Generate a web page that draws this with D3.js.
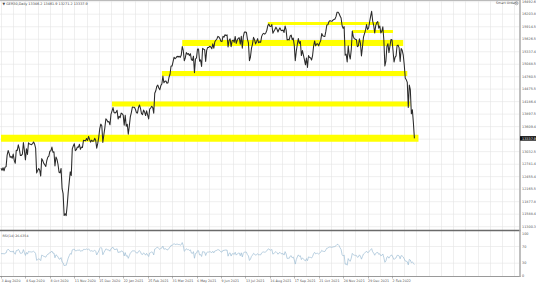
<!DOCTYPE html>
<html>
<head>
<meta charset="utf-8">
<script src="https://cdn.jsdelivr.net/npm/d3@7"></script>
<style>
  body { margin: 0; background: #fff; }
  svg { display: block; font-family: "DejaVu Sans", sans-serif; }
</style>
</head>
<body>
<div class="chart"></div>
<script>
var w = 536,
  h = 284;

var symbol = 'GER30,Daily',
  ohlc = ['13346.2', '13461.9', '13271.2', '13337.9'];

// July 2020 closes, only used to warm up the RSI
var warmup = [12261, 12608, 12528, 12733, 12617, 12495, 12489, 12634, 12800, 12697, 12931, 12875,
  12920, 13047, 13172, 13104, 13103, 12838, 12839, 12835, 12822, 12380, 12313];

// daily closes, 3 Aug 2020 .. 4 Mar 2022
var closes = [
  // Aug 2020
  12647, 12600, 12660, 12591, 12674, 12687, 12946, 13058, 12993, 12901, 12920, 12881, 12977, 12830, 12764, 13066, 13062, 13190, 13096, 12945, 12945,
  // Sep 2020
  12974, 13243, 13057, 12843, 13100, 12968, 13237, 13209, 13203, 13193, 13218, 13255, 13208, 13116, 12542, 12594, 12642, 12606, 12469, 12871, 12826, 12761,
  // Oct 2020
  12730, 12689, 12828, 12906, 12928, 13042, 13051, 13139, 13018, 13028, 12703, 12909, 12854, 12736, 12558, 12543, 12645, 12178, 12064, 11561, 11598, 11556,
  // Nov 2020
  11789, 12089, 12325, 12568, 12480, 13096, 13164, 13216, 13053, 13077, 13139, 13133, 13201, 13086, 13137, 13127, 13292, 13290, 13286, 13335, 13291,
  // Dec 2020
  13382, 13313, 13252, 13298, 13271, 13278, 13340, 13296, 13114, 13223, 13362, 13565, 13667, 13630, 13246, 13418, 13587, 13790, 13761, 13719,
  // Jan 2021
  13726, 13651, 13892, 13968, 14049, 13937, 13925, 13940, 13989, 13787, 13848, 13815, 13921, 13906, 13874, 13643, 13871, 13620, 13665, 13433,
  // Feb 2021
  13622, 13835, 13933, 14060, 14056, 14059, 14011, 13932, 13921, 14050, 14109, 14033, 13909, 13887, 13993, 13950, 13865, 13976, 13879, 13786,
  // Mar 2021
  14012, 14039, 14080, 14056, 13920, 14380, 14437, 14540, 14569, 14502, 14461, 14557, 14596, 14776, 14621, 14657, 14662, 14610, 14621, 14749, 14818, 15009, 15008,
  // Apr 2021
  15107, 15212, 15176, 15203, 15234, 15216, 15234, 15209, 15255, 15460, 15368, 15130, 15196, 15320, 15280, 15296, 15249, 15293, 15154, 15136,
  // May 2021
  15236, 14856, 15170, 15196, 15400, 15400, 15120, 15150, 15000, 15416, 15397, 15386, 15113, 15370, 15437, 15437, 15465, 15450, 15406, 15520, 15421,
  // Jun 2021
  15568, 15603, 15633, 15693, 15677, 15640, 15581, 15571, 15693, 15674, 15729, 15711, 15727, 15448, 15603, 15636, 15456, 15589, 15607, 15554, 15691, 15531,
  // Jul 2021
  15603, 15650, 15661, 15511, 15692, 15421, 15688, 15790, 15790, 15788, 15629, 15540, 15133, 15216, 15422, 15514, 15669, 15618, 15519, 15570, 15640, 15544,
  // Aug 2021
  15568, 15555, 15692, 15744, 15761, 15745, 15770, 15826, 15937, 15977, 15925, 15921, 15966, 15765, 15808, 15852, 15905, 15860, 15793, 15851, 15888, 15835,
  // Sep 2021
  15824, 15840, 15781, 15932, 15843, 15610, 15623, 15609, 15701, 15722, 15616, 15652, 15490, 15132, 15349, 15506, 15644, 15531, 15574, 15249, 15365, 15261,
  // Oct 2021
  15156, 15036, 15195, 14973, 15252, 15207, 15200, 15147, 15250, 15463, 15587, 15474, 15516, 15523, 15473, 15543, 15599, 15757, 15705, 15696, 15689,
  // Nov 2021
  15806, 15954, 15959, 16029, 16054, 16046, 16040, 16067, 16083, 16094, 16148, 16248, 16251, 16221, 16160, 16116, 15937, 15878, 15917, 15257, 15281, 15100,
  // Dec 2021
  15473, 15263, 15170, 15387, 15814, 15687, 15639, 15623, 15621, 15453, 15476, 15637, 15532, 15240, 15448, 15676, 15756, 15835, 15964, 15852, 15885,
  // Jan 2022
  16021, 16152, 16271, 16052, 15948, 15769, 15942, 16011, 16032, 15883, 15934, 15773, 15810, 15912, 15603, 15011, 15123, 15460, 15524, 15318, 15471,
  // Feb 2022
  15619, 15613, 15368, 15100, 15207, 15243, 15482, 15490, 15426, 15113, 15412, 15370, 15268, 15042, 14731, 14693, 14631, 14052, 14567, 14461,
  // Mar 2022
  13905, 14000, 13698, 13338
];

var tickBars = [0, 24, 48, 72, 96, 120, 144, 168, 192, 216, 240, 264, 288, 312, 336, 360, 384];
var tickDates = ['3 Aug 2020', '4 Sep 2020', '8 Oct 2020', '11 Nov 2020', '15 Dec 2020', '22 Jan 2021',
  '25 Feb 2021', '31 Mar 2021', '6 May 2021', '9 Jun 2021', '13 Jul 2021', '16 Aug 2021', '17 Sep 2021',
  '21 Oct 2021', '24 Nov 2021', '29 Dec 2021', '2 Feb 2022'];

var priceTicks = [16492.6, 16203.8, 15914.5, 15626.5, 15337.4, 15048.5, 14760.5, 14475.5, 14186.4, 13897.5,
  13609.4, 13320.4, 13032.5, 12741.4, 12455.4, 12165.5, 11877.8, 11588.4, 11300.3];
var rsiTicks = [100, 70, 30, 0];
var rsiLevels = [70, 30];

// yellow support / resistance lines: price, first bar, last bar
var bandLevels = [13340, 14130, 14835, 15540, 15805, 15990];
var bandFrom = [0, 109, 158, 178, 345, 262];
var bandTo = [410, 402, 399, 395, 385, 372];
var bandSize = [7, 5, 5, 6, 3, 3];

var plotRight = 519.5,
  sepY = 230.5,
  axisY = 276;

var x = d3.scaleLinear().domain([0, 384]).range([1, 392]);
var y = d3.scaleLinear().domain([11300.3, 16492.6]).range([226.7, 1.7]);
var yr = d3.scaleLinear().domain([0, 100]).range([275.7, 234]);

// Wilder RSI(14)
var rsiPeriod = 14;
var all = warmup.concat(closes);
var gains = 0, losses = 0, rsiAll = [];
for (var i = 1; i < all.length; i++) {
  var ch = all[i] - all[i - 1];
  var g = ch > 0 ? ch : 0, l = ch < 0 ? -ch : 0;
  if (i <= rsiPeriod) {
    gains += g / rsiPeriod; losses += l / rsiPeriod;
  } else {
    gains = (gains * (rsiPeriod - 1) + g) / rsiPeriod;
    losses = (losses * (rsiPeriod - 1) + l) / rsiPeriod;
  }
  rsiAll[i] = losses === 0 ? 100 : 100 - 100 / (1 + gains / losses);
}
var rsi = rsiAll.slice(warmup.length);

var svg = d3.select('.chart')
  .append('svg')
  .attr('width', w)
  .attr('height', h);

// grid
var gridX = d3.range(0, 520, 12).map(function (b) { return x(b); }).filter(function (v) { return v < plotRight; });
var grid = svg.append('g').attr('stroke', '#e4e4e4').attr('stroke-width', 0.6);
grid.selectAll('.gx')
  .data(gridX)
  .enter()
  .append('line')
  .attr('x1', function (d) { return Math.round(d) + 0.5; })
  .attr('x2', function (d) { return Math.round(d) + 0.5; })
  .attr('y1', 1)
  .attr('y2', axisY);
grid.selectAll('.gy')
  .data(priceTicks)
  .enter()
  .append('line')
  .attr('x1', 0)
  .attr('x2', plotRight)
  .attr('y1', function (d) { return y(d); })
  .attr('y2', function (d) { return y(d); });
grid.selectAll('.gr')
  .data(rsiLevels)
  .enter()
  .append('line')
  .attr('x1', 0)
  .attr('x2', plotRight)
  .attr('y1', function (d) { return yr(d); })
  .attr('y2', function (d) { return yr(d); });

// yellow lines
svg.append('g')
  .selectAll('line')
  .data(bandLevels)
  .enter()
  .append('line')
  .attr('x1', function (d, i) { return x(bandFrom[i]); })
  .attr('x2', function (d, i) { return x(bandTo[i]); })
  .attr('y1', function (d) { return y(d); })
  .attr('y2', function (d) { return y(d); })
  .attr('stroke', '#ffff00')
  .attr('stroke-width', function (d, i) { return bandSize[i]; });

// price line
var priceLine = d3.line()
  .x(function (d, i) { return x(i); })
  .y(function (d) { return y(d); });
svg.append('path')
  .datum(closes)
  .attr('d', priceLine)
  .attr('fill', 'none')
  .attr('stroke', '#2a2a2a')
  .attr('stroke-width', 1.05)
  .attr('stroke-linejoin', 'round');

// rsi line
var rsiLine = d3.line()
  .x(function (d, i) { return x(i); })
  .y(function (d) { return yr(d); });
svg.append('path')
  .datum(rsi)
  .attr('d', rsiLine)
  .attr('fill', 'none')
  .attr('stroke', '#9dbdd4')
  .attr('stroke-width', 0.7);

// frame
svg.append('line').attr('x1', 0).attr('x2', plotRight).attr('y1', 0.5).attr('y2', 0.5)
  .attr('stroke', '#bbb').attr('stroke-width', 1);
svg.append('line').attr('x1', 0).attr('x2', plotRight + 1).attr('y1', sepY).attr('y2', sepY)
  .attr('stroke', '#6a6a6a').attr('stroke-width', 1.5);
svg.append('line').attr('x1', 0).attr('x2', plotRight + 1).attr('y1', axisY + 0.5).attr('y2', axisY + 0.5)
  .attr('stroke', '#9a9a9a').attr('stroke-width', 1);
svg.append('line').attr('x1', plotRight + 0.5).attr('x2', plotRight + 0.5).attr('y1', 0).attr('y2', axisY + 1)
  .attr('stroke', '#a8a8a8').attr('stroke-width', 1.5);

// price axis labels
var last = closes[closes.length - 1];
var priceAxis = svg.append('g').attr('font-size', 3.4).attr('fill', '#555');
priceAxis.selectAll('text')
  .data(priceTicks.filter(function (d) { return Math.abs(y(d) - y(last)) > 3; }))
  .enter()
  .append('text')
  .attr('x', 522)
  .attr('y', function (d) { return y(d) + 1.2; })
  .text(function (d) { return d.toFixed(1); });
svg.append('rect')
  .attr('x', 520)
  .attr('y', y(last) - 2.3)
  .attr('width', 16)
  .attr('height', 4.6)
  .attr('fill', '#111');
svg.append('text')
  .attr('x', 522)
  .attr('y', y(last) + 1.2)
  .attr('font-size', 3.4)
  .attr('fill', '#fff')
  .text(ohlc[3]);

// rsi axis labels
svg.append('g').attr('font-size', 3.4).attr('fill', '#555')
  .selectAll('text')
  .data(rsiTicks)
  .enter()
  .append('text')
  .attr('x', 522)
  .attr('y', function (d) { return yr(d) + 1.2; })
  .text(function (d) { return d; });

// time axis
var timeAxis = svg.append('g');
timeAxis.selectAll('line')
  .data(tickBars)
  .enter()
  .append('line')
  .attr('x1', function (d) { return Math.round(x(d)) + 0.5; })
  .attr('x2', function (d) { return Math.round(x(d)) + 0.5; })
  .attr('y1', axisY)
  .attr('y2', axisY + 2.5)
  .attr('stroke', '#888')
  .attr('stroke-width', 0.6);
timeAxis.selectAll('text')
  .data(tickBars)
  .enter()
  .append('text')
  .attr('x', function (d) { return x(d) + 0.5; })
  .attr('y', 282)
  .attr('font-size', 3.3)
  .attr('fill', '#555')
  .text(function (d, i) { return tickDates[i]; });

// header texts
svg.append('text')
  .attr('x', 2.5)
  .attr('y', 4.6)
  .attr('font-size', 3.4)
  .attr('fill', '#444')
  .text('\u25BC ' + symbol + '  ' + ohlc.join(' '));
svg.append('text')
  .attr('x', 496)
  .attr('y', 4.3)
  .attr('font-size', 3.2)
  .attr('fill', '#444')
  .text('Smart Orders');
svg.append('circle')
  .attr('cx', 516.5)
  .attr('cy', 3.2)
  .attr('r', 1.6)
  .attr('fill', 'none')
  .attr('stroke', '#666')
  .attr('stroke-width', 0.5);
svg.append('text')
  .attr('x', 2.5)
  .attr('y', 237)
  .attr('font-size', 3.2)
  .attr('fill', '#444')
  .text('RSI(14) ' + rsi[rsi.length - 1].toFixed(4));
</script>
</body>
</html>
